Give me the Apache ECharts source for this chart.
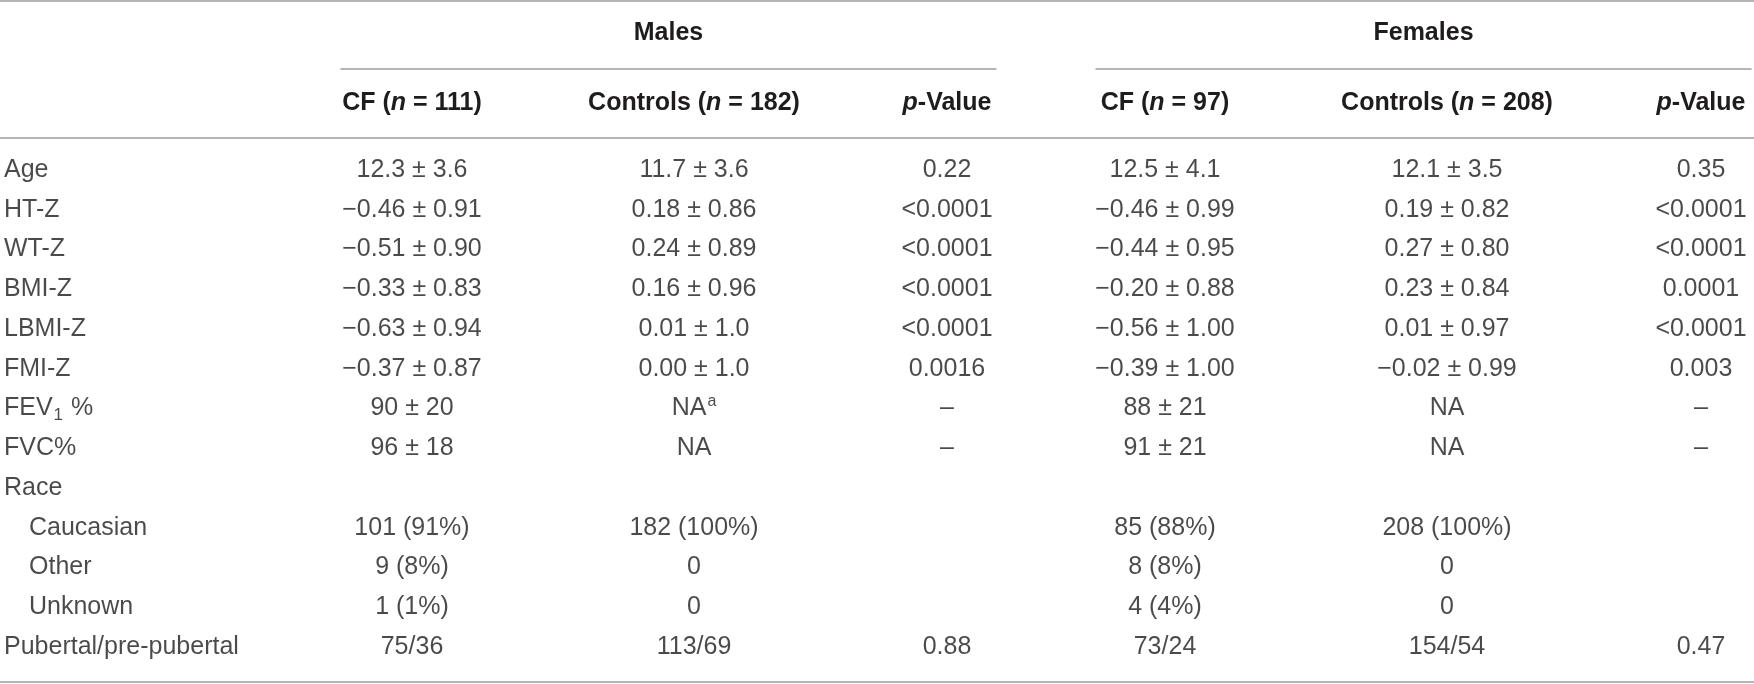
<!DOCTYPE html>
<html><head><meta charset="utf-8">
<style>html,body{margin:0;padding:0;background:#fff}#c{width:1754px;height:684px}</style>
<script src="https://cdn.jsdelivr.net/npm/echarts@6/dist/echarts.min.js"></script>
</head><body><div id="c"></div>
<script>
// ---------- data ----------
const rowLabels = ['Age','HT-Z','WT-Z','BMI-Z','LBMI-Z','FMI-Z','FEV_1 %','FVC%','Race','Caucasian','Other','Unknown','Pubertal/pre-pubertal'];
const indentedRows = ['Caucasian','Other','Unknown'];
const groupLabels = ['Males','Females'];
const columnHeaders = ['', 'CF (n = 111)', 'Controls (n = 182)', 'p-Value', 'CF (n = 97)', 'Controls (n = 208)', 'p-Value'];
const malesCF = ['12.3 ± 3.6','−0.46 ± 0.91','−0.51 ± 0.90','−0.33 ± 0.83','−0.63 ± 0.94','−0.37 ± 0.87','90 ± 20','96 ± 18','','101 (91%)','9 (8%)','1 (1%)','75/36'];
const malesControls = ['11.7 ± 3.6','0.18 ± 0.86','0.24 ± 0.89','0.16 ± 0.96','0.01 ± 1.0','0.00 ± 1.0','NA^a','NA','','182 (100%)','0','0','113/69'];
const malesP = ['0.22','<0.0001','<0.0001','<0.0001','<0.0001','0.0016','–','–','','','','','0.88'];
const femalesCF = ['12.5 ± 4.1','−0.46 ± 0.99','−0.44 ± 0.95','−0.20 ± 0.88','−0.56 ± 1.00','−0.39 ± 1.00','88 ± 21','91 ± 21','','85 (88%)','8 (8%)','4 (4%)','73/24'];
const femalesControls = ['12.1 ± 3.5','0.19 ± 0.82','0.27 ± 0.80','0.23 ± 0.84','0.01 ± 0.97','−0.02 ± 0.99','NA','NA','','208 (100%)','0','0','154/54'];
const femalesP = ['0.35','<0.0001','<0.0001','0.0001','<0.0001','0.003','–','–','','','','','0.47'];

// ---------- layout / style ----------
const FONT = '"Liberation Sans", Arial, sans-serif';
const TXT = '#1f1c1d';
const LINE = '#9d9d9d';
const FS = 25;
const colCenters = [4, 412, 694, 947, 1165, 1447, 1701];
const colWidth = 100;
const bodyTop = 150, bodyHeight = 517;
const columns = [rowLabels, malesCF, malesControls, malesP, femalesCF, femalesControls, femalesP];

const rich = {
  sub: {fontSize: 17, fontFamily: FONT, color: TXT, padding: [13, 1, 0, 1]},
  sup: {fontSize: 16, fontFamily: FONT, color: TXT, padding: [0, 0, 13, 1]},
  ind: {fontSize: FS, fontFamily: FONT, color: TXT, padding: [0, 0, 0, 25]},
  bi: {fontSize: FS, fontFamily: FONT, color: TXT, fontWeight: 'bold', fontStyle: 'italic'}
};
function fmtCell(s) {
  if (indentedRows.includes(s)) return '{ind|' + s + '}';
  return s.replace(/_(\w)/, '{sub|$1}').replace(/\^(\w)/, '{sup|$1}');
}
function fmtHeader(s) {
  return s.replace(/\(n = /, '({bi|n} = ').replace(/^p-/, '{bi|p}-');
}

const grids = [], xAxes = [], yAxes = [], series = [];
const rowCats = rowLabels.map((_, i) => String(i));

columns.forEach((vals, ci) => {
  const gi = grids.length;
  const isLabel = ci === 0;
  grids.push({left: isLabel ? colCenters[ci] - 1 : colCenters[ci] - colWidth / 2, width: isLabel ? 2 : colWidth, top: bodyTop, height: bodyHeight});
  xAxes.push({
    gridIndex: gi, type: 'category', position: 'top', data: [columnHeaders[ci]],
    axisLine: {show: false}, axisTick: {show: false}, splitLine: {show: false},
    axisLabel: {show: true, margin: 47, verticalAlign: 'middle', interval: 0,
      fontFamily: FONT, fontSize: FS, fontWeight: 'bold', color: TXT,
      formatter: fmtHeader, rich: rich}
  });
  yAxes.push({gridIndex: gi, type: 'category', inverse: true, data: rowCats, show: false});
  series.push({
    type: 'scatter', xAxisIndex: gi, yAxisIndex: gi, symbolSize: 1,
    itemStyle: {color: 'rgba(0,0,0,0)'}, silent: true, clip: false,
    data: vals.map((v, r) => v === '' ? null : [0, r, v]),
    encode: {x: 0, y: 1},
    label: {show: true, position: 'inside', align: isLabel ? 'left' : 'center', verticalAlign: 'middle',
      fontFamily: FONT, fontSize: FS, color: TXT,
      formatter: p => fmtCell(p.value[2]), rich: rich}
  });
});

// group headers (Males / Females) with rule underneath
const groupSpans = [[341, 655], [1096, 655]];
groupLabels.forEach((g, k) => {
  const gi = grids.length;
  grids.push({left: groupSpans[k][0], width: groupSpans[k][1], top: 69, height: 60});
  xAxes.push({gridIndex: gi, type: 'category', position: 'top', data: [g],
    axisLine: {show: true, onZero: false, lineStyle: {color: LINE, width: 1.5}}, axisTick: {show: false},
    axisLabel: {margin: 36, verticalAlign: 'middle', fontFamily: FONT, fontSize: FS, fontWeight: 'bold', color: TXT}});
  yAxes.push({gridIndex: gi, type: 'value', show: false});
});

// table frame rules: top, below header, bottom
const ruleGrids = [{top: 1, bottom: 2}, {top: 138, height: 20}];
ruleGrids.forEach((rg, k) => {
  const gi = grids.length;
  grids.push(Object.assign({left: 0, right: 0}, rg));
  xAxes.push({gridIndex: gi, type: 'category', position: 'top', data: [''],
    axisLine: {show: true, onZero: false, lineStyle: {color: LINE, width: 1.5}}, axisTick: {show: false}, axisLabel: {show: false}});
  if (k === 0) {
    xAxes.push({gridIndex: gi, type: 'category', position: 'bottom', data: [''],
      axisLine: {show: true, onZero: false, lineStyle: {color: LINE, width: 1.5}}, axisTick: {show: false}, axisLabel: {show: false}});
  }
  yAxes.push({gridIndex: gi, type: 'value', show: false});
});

const chart = echarts.init(document.getElementById('c'), null, {renderer: 'canvas'});
chart.setOption({animation: false, backgroundColor: '#fff', grid: grids, xAxis: xAxes, yAxis: yAxes, series: series});
</script></body></html>
